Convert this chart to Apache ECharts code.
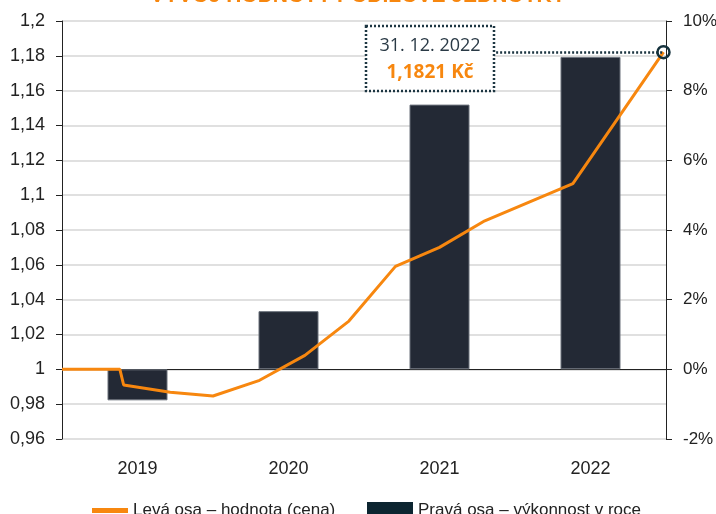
<!DOCTYPE html>
<html>
<head>
<meta charset="utf-8">
<script src="https://cdn.jsdelivr.net/npm/echarts@6/dist/echarts.min.js"></script>
<style>
html, body { margin: 0; padding: 0; background: #fff; }
#chart { width: 716px; height: 514px; }
</style>
</head>
<body>
<div id="chart"></div>
<script>
// kategorie (roky) a rocni vykonnost v % (prava osa)
var years = ['2019', '2020', '2021', '2022'];
var yearReturn = [-0.89, 1.67, 7.60, 8.97];

// vyvoj hodnoty (leva osa), x = mesic od zacatku 2019
var lineMonths = [0, 4.6, 4.9, 8.6, 12, 15.7, 19.3, 22.8, 26.5, 30.0, 33.6, 40.6, 47.8];
var lineValues = [1.0, 1.0, 0.991, 0.9868, 0.9847, 0.9937, 1.008, 1.0277, 1.0591, 1.070, 1.0853, 1.1066, 1.1821];

var lastDate = '31. 12. 2022';
var lastValue = '1,1821 Kč';

var ORANGE = '#f7870f';
var NAVY = '#232935';
var FONT = '"Liberation Sans Narrow", "Liberation Sans", Arial, sans-serif';

var lineData = [];
for (var i = 0; i < lineMonths.length; i++) {
    lineData.push([lineMonths[i], lineValues[i]]);
}
var last = lineData[lineData.length - 1];

var myChart = echarts.init(document.getElementById('chart'));

var option = {
    animation: false,
    title: {
        text: 'VÝVOJ HODNOTY PODÍLOVÉ JEDNOTKY',
        left: 'center',
        top: -19,
        textStyle: { color: ORANGE, fontSize: 21, fontWeight: 'bold', fontFamily: 'Arial, sans-serif' }
    },
    grid: { left: 62, right: 50, top: 21, bottom: 75, outerBoundsMode: 'none', containLabel: false },
    legend: [
        {
            data: [{ name: 'Levá osa – hodnota (cena)', icon: 'rect' }],
            left: 87, top: 497,
            itemWidth: 36, itemHeight: 5, itemGap: 10,
            textStyle: { fontSize: 17, color: '#222', fontFamily: FONT }
        },
        {
            data: [{ name: 'Pravá osa – výkonnost v roce', icon: 'rect',
                     itemStyle: { color: '#0c2530', borderWidth: 0 } }],
            left: 362, top: 497,
            itemWidth: 46, itemHeight: 17, itemGap: 10,
            textStyle: { fontSize: 17, color: '#222', fontFamily: FONT }
        }
    ],
    xAxis: [
        {
            type: 'category',
            data: years,
            position: 'bottom',
            axisLine: { show: false },
            axisTick: { show: false },
            axisLabel: { margin: 21, fontSize: 18, color: '#222', fontFamily: FONT }
        },
        {
            type: 'category',
            data: years,
            position: 'top',
            axisLine: { onZero: true, onZeroAxisIndex: 1, lineStyle: { color: '#222', width: 1 } },
            axisTick: { inside: true, length: 6, lineStyle: { color: '#444' } },
            axisLabel: { show: false }
        },
        {
            type: 'value',
            min: 0, max: 48,
            show: false
        }
    ],
    yAxis: [
        {
            type: 'value',
            position: 'left',
            min: 0.96, max: 1.2, interval: 0.02,
            axisLine: { show: true, lineStyle: { color: '#222' } },
            axisTick: { show: true, length: 6, lineStyle: { color: '#222' } },
            axisLabel: {
                margin: 17, fontSize: 18, color: '#222', fontFamily: FONT,
                formatter: function (v) { return String(+v.toFixed(2)).replace('.', ','); }
            },
            splitLine: { lineStyle: { color: '#d6d6d6', width: 1.5 } }
        },
        {
            type: 'value',
            position: 'right',
            min: -2, max: 10, interval: 2,
            axisLine: { show: true, lineStyle: { color: '#222' } },
            axisTick: { show: true, length: 6, lineStyle: { color: '#222' } },
            axisLabel: { margin: 17, fontSize: 17, color: '#222', fontFamily: FONT, formatter: '{value}%' },
            splitLine: { show: false }
        }
    ],
    series: [
        {
            name: 'Pravá osa – výkonnost v roce',
            type: 'bar',
            xAxisIndex: 0,
            yAxisIndex: 1,
            data: yearReturn,
            barWidth: 60,
            itemStyle: { color: NAVY, borderColor: '#6a717b', borderWidth: 1 },
            z: 2
        },
        {
            name: 'Levá osa – hodnota (cena)',
            type: 'line',
            xAxisIndex: 2,
            yAxisIndex: 0,
            data: lineData,
            showSymbol: false,
            lineStyle: { color: ORANGE, width: 3 },
            itemStyle: { color: ORANGE },
            z: 3,
            markLine: {
                silent: true,
                symbol: ['none', 'none'],
                label: { show: false },
                lineStyle: { type: [2, 2], color: '#1d3642', width: 2.5 },
                data: [[{ coord: [34.5, last[1]] }, { coord: [last[0], last[1]] }]]
            },
            markPoint: {
                silent: true,
                symbol: 'circle',
                symbolSize: 12,
                label: { show: false },
                itemStyle: { color: 'rgba(255,255,255,0)', borderColor: '#14313c', borderWidth: 2.5 },
                data: [{ coord: last }]
            }
        }
    ],
    graphic: [
        {
            type: 'rect',
            shape: { x: 366, y: 26, width: 128, height: 65 },
            style: { fill: '#fff', stroke: '#1d3642', lineWidth: 2.5, lineDash: [2, 2] },
            z: 10
        },
        {
            type: 'text',
            x: 430, y: 46,
            style: {
                text: lastDate, fill: '#2a3a46', fontSize: 18, fontFamily: '"Open Sans", sans-serif',
                align: 'center', verticalAlign: 'middle'
            },
            z: 11
        },
        {
            type: 'text',
            x: 430, y: 73,
            style: {
                text: lastValue, fill: ORANGE, fontSize: 19, fontWeight: 'bold', fontFamily: '"Open Sans", sans-serif',
                align: 'center', verticalAlign: 'middle'
            },
            z: 11
        }
    ]
};

myChart.setOption(option);
</script>
</body>
</html>
